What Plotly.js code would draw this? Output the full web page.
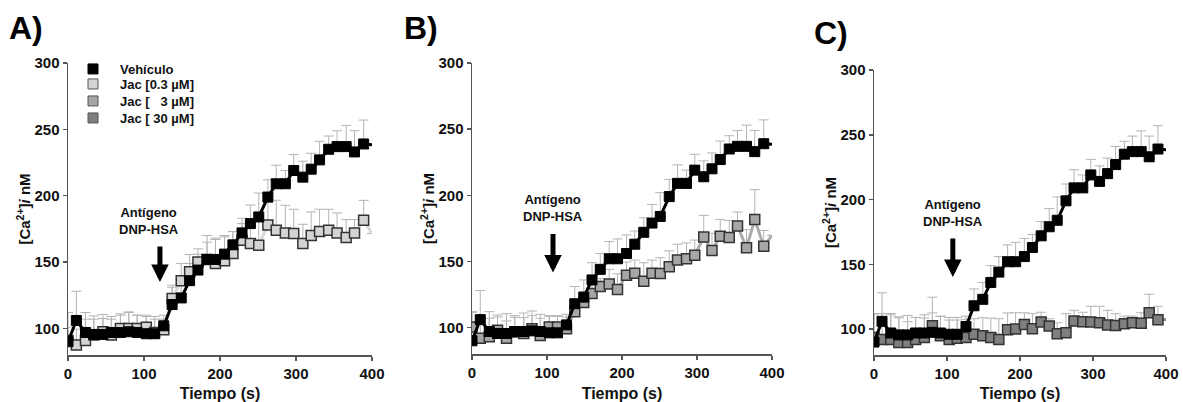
<!DOCTYPE html>
<html>
<head>
<meta charset="utf-8">
<script src="https://cdn.plot.ly/plotly-3.0.1.min.js"></script>
<style>html,body{margin:0;padding:0;background:#fff;}#chart{width:1183px;height:402px;}</style>
</head>
<body>
<div id="chart"></div>
<script>
// Time points (s)
const time = [0,11,23,34,46,57,69,80,91,103,114,126,137,149,160,171,183,194,206,217,229,240,251,263,274,286,297,309,320,331,343,354,366,377,389,400];

// Vehículo (mean, upper SEM)
const vehicle = [90,106,97,95.5,95.5,97,97,97.5,97,96,96,102,118,123,136,144,152,152,156,163,172,179,184,199,209,209,219,214,220,227,235,237,237,233,239,238.5];
const vehicleErr = [22,22,15,14,15,12,14,15,13,13,13,8,13,13,13,12,13,15,14,10,11,14,18,13,14,10,12,12,12,14,10,12,16,16,18,null];

// Jac 0.3 µM
const jac03 = [91,87.5,91,95,97.5,95,100,100,100,101,97,99,122.6,136,142.7,150,152,149,151,156.5,166.5,164,162.7,178,174,172,171.5,164,170,173,174,172,168.5,172,181.5,171.5];
const jac03Err = [10,12,16,12,10,12,10,12,10,9,10,8,10,13,13,10,18,19,18,16.5,12.5,17.5,22,17,22.6,20.8,18.3,14.5,17.8,16.8,15.8,15,13.5,10,15,null];

// Jac 3 µM
const jac3 = [100.5,92,93,98,92,96.7,95.5,99,94,100.5,100.5,99,112,119,125.7,131,133,128.7,139.5,141,135,141,140.8,146,151,152,154.6,168.4,158.3,169,168,176.7,160.4,181.6,161.4,169.7];
const jac3Err = [11,16,14,10,13,11,12,10,13,8,8,9,7,8,10,6,11,12,10,10,14,10,12,12,12,12,11.5,16.4,13,12.6,13,10.6,13.6,22.7,12,null];

// Jac 30 µM
const jac30 = [93.5,92,92,89.7,89.7,92,93.5,102.6,94.8,92,93,93.5,96,94.8,93.5,92,99.5,100,103.6,100.3,105.5,102.4,96.4,97.1,106.2,105.7,105.5,104.9,103.1,102.8,104.1,104.9,104.6,112.6,107.2,107.5];
const jac30Err = [18,20,19,19,16,17,15,22,15,15,14,14,12,14,15,16,13,12.6,9,11.6,7.5,5.6,8.5,14.8,8.3,7.3,12.1,12.7,11.4,9.1,5.9,5.1,8,14.3,10.4,null];

const seriesNames = ['Vehículo','Jac [0.3 µM]','Jac [\u00A0\u00A0\u00A03 µM]','Jac [ 30 µM]'];
const xTicks = [0,100,200,300,400];
const yTicks = [100,150,200,250,300];
const panelLabels = ['A)','B)','C)'];
const annLines = ['Antígeno','DNP-HSA'];

const FONT = 'Liberation Sans, Arial, Helvetica, sans-serif';
const fills = ['#000000','#d4d4d4','#a6a6a6','#7f7f7f'];
const lineColors = ['#000000','#d8d8d8','#ababab','#858585'];

const N = time.length;
function sizes(s){ const a = new Array(N).fill(s); a[N-1] = 0; return a; }
const zeros = time.map(()=>0);

function errTrace(y, err, xa, ya){
  return {type:'scatter', mode:'markers', x: time, y: y, xaxis: xa, yaxis: ya, showlegend:false, hoverinfo:'skip',
    marker:{size:2, opacity:0, color:'#fff'},
    error_y:{type:'data', symmetric:false, array: err, arrayminus: zeros, color:'#b4b4b4', thickness:1, width:5}};
}
function lineTrace(y, k, xa, ya){
  return {type:'scatter', mode:'lines+markers', x: time, y: y, xaxis: xa, yaxis: ya, showlegend:false, hoverinfo:'skip',
    line:{color: lineColors[k], width:3},
    marker:{symbol:'square', size: sizes(10), opacity:1, color: fills[k],
      line:{color: k===0 ? '#000' : '#333', width: sizes(k===0 ? 1 : 1.5)}}};
}
function legendTrace(k, legendId){
  return {type:'scatter', mode:'markers', x:[null], y:[null], name: seriesNames[k], showlegend:true, legend: legendId,
    xaxis:'x', yaxis:'y',
    marker:{symbol:'square', size:10, opacity:1, color: fills[k], line:{color: k===0 ? '#000' : '#555', width:1}}};
}

const data = [
  errTrace(jac03, jac03Err, 'x', 'y'),
  errTrace(vehicle, vehicleErr, 'x', 'y'),
  lineTrace(jac03, 1, 'x', 'y'),
  lineTrace(vehicle, 0, 'x', 'y'),
  errTrace(jac3, jac3Err, 'x2', 'y2'),
  errTrace(vehicle, vehicleErr, 'x2', 'y2'),
  lineTrace(jac3, 2, 'x2', 'y2'),
  lineTrace(vehicle, 0, 'x2', 'y2'),
  errTrace(jac30, jac30Err, 'x3', 'y3'),
  errTrace(vehicle, vehicleErr, 'x3', 'y3'),
  lineTrace(jac30, 3, 'x3', 'y3'),
  lineTrace(vehicle, 0, 'x3', 'y3'),
  legendTrace(0, 'legend'),
  legendTrace(1, 'legend2'),
  legendTrace(2, 'legend3'),
  legendTrace(3, 'legend4')
];

const W = 1183, H = 402;
function xAxis(l, r, anchor){
  return {domain:[l/W, r/W], range:[0,400], anchor: anchor, tickvals: xTicks, ticktext: xTicks.map(String),
    showline:true, linecolor:'#555', linewidth:1.5, ticks:'outside', ticklen:4, tickcolor:'#555', tickwidth:1.5,
    showgrid:false, zeroline:false, ticklabeloverflow:'allow',
    tickfont:{family:FONT, size:15, color:'#111', weight:'bold'},
    title:{text:'Tiempo (s)', font:{family:FONT, size:16, color:'#111', weight:'bold'}, standoff:15}};
}
function yAxis(top, bottom, anchor){
  return {domain:[(H-bottom)/H, (H-top)/H], range:[80,300], anchor: anchor, tickvals: yTicks, ticktext: yTicks.map(String),
    showline:true, linecolor:'#555', linewidth:1.5, ticks:'outside', ticklen:4, tickcolor:'#555', tickwidth:1.5,
    showgrid:false, zeroline:false, ticklabeloverflow:'allow',
    tickfont:{family:FONT, size:15, color:'#111', weight:'bold'},
    title:{text:'[Ca<sup>2+</sup>]<i>i</i> nM', font:{family:FONT, size:15, color:'#111', weight:'bold'}, standoff:0}};
}

function legendBox(topPx){
  return {x:66/W, y:1-topPx/H, xanchor:'left', yanchor:'top', bgcolor:'rgba(0,0,0,0)', borderwidth:0,
    itemwidth:44, font:{family:FONT, size:13, color:'#111', weight:'bold'}};
}

// Stimulus annotation: text with a vertical arrow below it
function stimAnn(xref, yref, x, y, ay, pad){
  const sp = '\u00A0'.repeat(pad);
  return {xref:xref, yref:yref, x:x, y:y, ax:0, ay:ay, text: annLines.map(t => t + sp).join('<br>'),
    showarrow:true, arrowhead:2, arrowsize:0.7, arrowwidth:5, arrowcolor:'#000', standoff:0, startstandoff:8,
    align:'center', font:{family:FONT, size:13, color:'#111', weight:'bold'}};
}
function labelAnn(text, px, py){
  return {xref:'paper', yref:'paper', x:px/W, y:1-py/H, xanchor:'center', yanchor:'middle', text:text, showarrow:false,
    font:{family:FONT, size:32, color:'#000', weight:'bold'}};
}

const layout = {
  width:W, height:H, autosize:false, margin:{l:0,r:0,t:0,b:0},
  paper_bgcolor:'#fff', plot_bgcolor:'#fff',
  font:{family:FONT, color:'#111'},
  xaxis: xAxis(68, 372, 'y'),
  yaxis: yAxis(63, 355, 'x'),
  xaxis2: xAxis(472, 772, 'y2'),
  yaxis2: yAxis(63, 354, 'x2'),
  xaxis3: xAxis(874, 1166, 'y3'),
  yaxis3: yAxis(70, 355, 'x3'),
  showlegend:true,
  legend: legendBox(54),
  legend2: legendBox(69),
  legend3: legendBox(86),
  legend4: legendBox(103),
  annotations:[
    labelAnn(panelLabels[0], 26, 28),
    labelAnn(panelLabels[1], 421, 28),
    labelAnn(panelLabels[2], 831, 33),
    stimAnn('x','y', 121, 135, -61, 6),
    stimAnn('x2','y2', 108, 141.7, -64, 0),
    stimAnn('x3','y3', 108, 140.3, -64, 0)
  ]
};

Plotly.newPlot('chart', data, layout, {staticPlot:true, displayModeBar:false});
</script>
</body>
</html>
